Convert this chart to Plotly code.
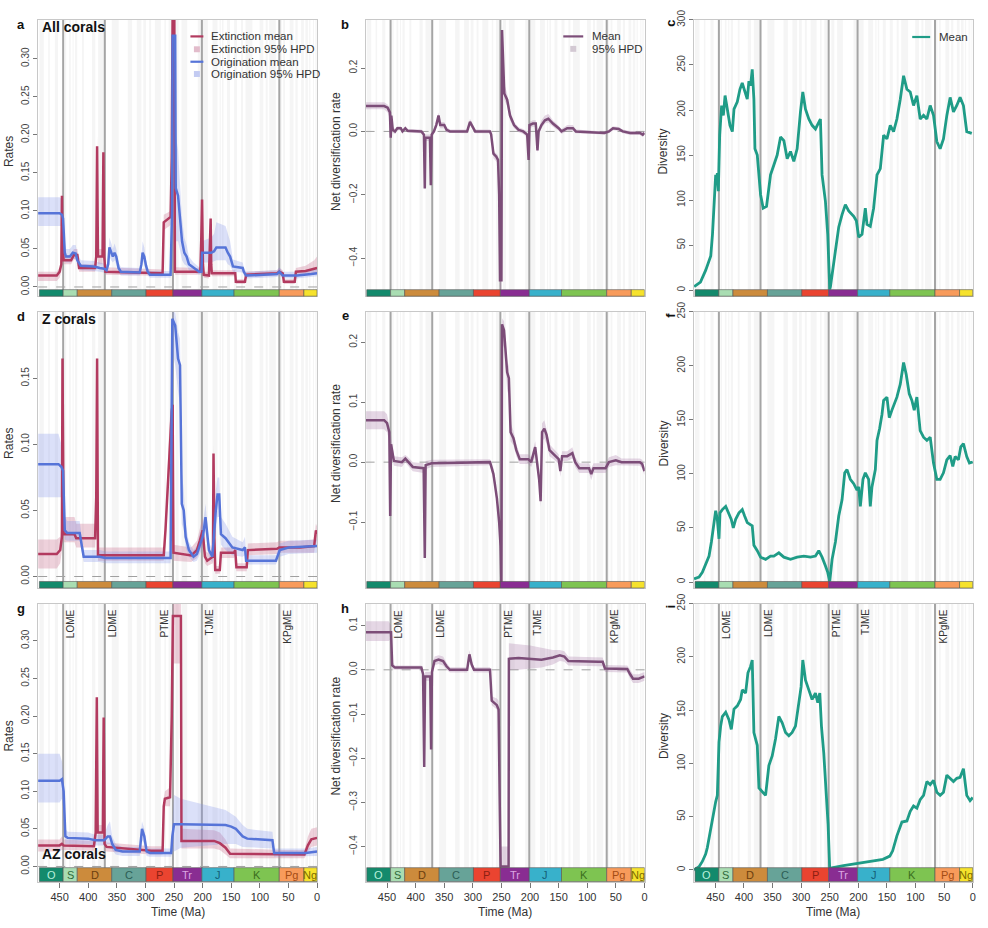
import plotly.graph_objects as go

W, H = 988, 928
FONT = "Liberation Sans, Arial, Helvetica, sans-serif"

# ---------------- geological time scale ----------------
period_names = ["O", "S", "D", "C", "P", "Tr", "J", "K", "Pg", "Ng"]
period_start = [485.4, 443.8, 419.2, 358.9, 298.9, 251.9, 201.3, 145.0, 66.0, 23.03]
period_end = [443.8, 419.2, 358.9, 298.9, 251.9, 201.3, 145.0, 66.0, 23.03, 0.0]
period_fill = ["#138a6c", "#a9ddb2", "#cc8b3c", "#67a398", "#ea4430",
               "#892d92", "#38b1cb", "#7ec451", "#f89b5b", "#f6e22c"]
period_text_color = ["#b8f0dc", "#2f6a3a", "#6b3e0e", "#2c5e55", "#8c1f12",
                     "#dba6e3", "#155f78", "#3b6e1e", "#a44c14", "#7a6a00"]
stage_bounds = [485.4, 477.7, 470.0, 467.3, 458.4, 453.0, 445.2, 443.8, 440.8, 438.5,
                433.4, 430.5, 427.4, 425.6, 423.0, 419.2, 410.8, 407.6, 393.3, 387.7,
                382.7, 372.2, 358.9, 346.7, 330.9, 323.2, 315.2, 307.0, 303.7, 298.9,
                293.5, 290.1, 283.5, 273.0, 266.9, 264.3, 259.5, 254.1, 251.9, 251.2,
                247.2, 242.0, 237.0, 227.0, 208.5, 201.3, 199.3, 190.8, 182.7, 174.1,
                170.3, 168.3, 166.1, 163.5, 157.3, 152.1, 145.0, 139.8, 132.9, 129.4,
                125.0, 113.0, 100.5, 93.9, 89.8, 86.3, 83.6, 72.1, 66.0, 61.6,
                59.2, 56.0, 47.8, 41.2, 37.8, 33.9, 27.8, 23.0, 20.4, 16.0,
                13.8, 11.6, 7.2, 5.3, 3.6, 2.6, 1.8, 0.8, 0.0]
extinction_ages = [443.8, 371.0, 251.9, 201.3, 66.0]
extinction_names = ["LOME", "LDME", "PTME", "TJME", "KPgME"]
time_ticks = [450, 400, 350, 300, 250, 200, 150, 100, 50, 0]

# ---------------- series: (time Ma, mean, HPD low, HPD high) ----------------
a_ext = [(488, .015, .008, .020), (455, .015, .008, .020), (450, .020, .012, .026),
         (447, .030, .020, .040), (446, .120, .090, .150), (445, .060, .040, .080),
         (443, .035, .030, .042), (430, .035, .030, .042), (425, .042, .036, .050),
         (419, .042, .036, .050), (416, .025, .020, .030), (388, .025, .020, .030),
         (386, .040, .030, .050), (384.5, .185, .150, .200), (383, .040, .030, .050),
         (375, .040, .030, .050), (373.5, .177, .140, .190), (372, .040, .030, .050),
         (370, .020, .016, .026), (300, .019, .015, .024), (270, .018, .014, .023),
         (268, .085, .075, .095), (258, .090, .080, .100), (256, .092, .082, .100),
         (254, .170, .140, .200), (252.5, .360, .330, .360), (249.5, .360, .330, .360),
         (248.5, .020, .016, .026), (210, .020, .016, .025), (204, .021, .017, .026),
         (202.5, .060, .045, .075), (201, .115, .090, .130), (199.5, .030, .025, .040),
         (198, .016, .012, .020), (189, .015, .011, .020), (188, .050, .040, .060),
         (186, .090, .070, .100), (185, .030, .025, .040), (184, .018, .014, .022),
         (143, .018, .014, .022), (142, .007, .004, .010), (126, .007, .004, .010),
         (124, .016, .013, .020), (100, .017, .014, .021), (70, .018, .015, .022),
         (66, .020, .016, .025), (60, .018, .014, .022), (58, .007, .004, .010),
         (39, .007, .004, .010), (37, .020, .016, .025), (20, .021, .017, .028),
         (5, .024, .018, .035), (0, .025, .018, .040)]

a_ori = [(488, .097, .080, .118), (450, .097, .080, .118), (446, .095, .080, .115),
         (444, .090, .070, .110), (441, .045, .035, .060), (439, .040, .032, .050),
         (432, .040, .032, .050), (427, .045, .037, .055), (422, .044, .036, .055),
         (419, .035, .028, .045), (413, .028, .022, .035), (390, .027, .021, .034),
         (380, .025, .020, .032), (372, .024, .019, .031), (368, .022, .017, .030),
         (365, .030, .022, .040), (363, .052, .040, .065), (360, .045, .035, .058),
         (357, .040, .032, .050), (354, .045, .035, .057), (351, .040, .030, .050),
         (347, .025, .019, .032), (343, .020, .015, .026), (310, .019, .015, .025),
         (307, .030, .022, .040), (305, .045, .035, .060), (302, .040, .030, .052),
         (299, .028, .020, .036), (296, .020, .015, .026), (292, .016, .012, .021),
         (256, .016, .012, .021), (253.5, .100, .050, .200), (252.5, .330, .200, .360),
         (248, .330, .220, .360), (247, .130, .060, .200), (243, .120, .060, .180),
         (240, .090, .050, .140), (236, .060, .035, .090), (232, .045, .030, .065),
         (228, .040, .028, .055), (224, .030, .022, .040), (216, .025, .019, .032),
         (206, .020, .016, .026), (202, .020, .016, .026), (201, .045, .032, .060),
         (185, .045, .032, .065), (180, .047, .034, .070), (176, .052, .035, .085),
         (160, .052, .035, .080), (156, .045, .030, .070), (152, .040, .028, .060),
         (147, .027, .020, .036), (130, .025, .019, .032), (128, .020, .015, .026),
         (124, .015, .011, .020), (70, .017, .013, .022), (66, .020, .015, .026),
         (60, .015, .011, .020), (35, .015, .011, .020), (10, .017, .013, .022),
         (0, .018, .014, .024)]

b_net = [(488, .080, .070, .092), (455, .080, .070, .092), (449, .075, .060, .085),
         (445, .060, .040, .075), (443.5, -.020, -.030, .000), (442.5, .050, .030, .065),
         (440, .005, -.005, .015), (436, .000, -.008, .008), (432, .010, .004, .016),
         (426, .010, .004, .016), (423, .000, -.006, .006), (418, .010, .004, .016),
         (414, .002, -.004, .008), (390, .000, -.006, .006), (385.5, -.010, -.018, -.002),
         (384, -.180, -.190, -.150), (383, -.020, -.030, -.010), (375, -.020, -.030, -.010),
         (373.5, -.170, -.180, -.140), (372, -.010, -.020, .000), (368, .000, -.008, .010),
         (364, .020, .010, .030), (360, .050, .030, .060), (357, .020, .010, .030),
         (350, .020, .010, .030), (346, .005, -.004, .014), (340, .000, -.006, .006),
         (310, .000, -.006, .006), (305, .030, .020, .040), (300, .012, .004, .020),
         (296, .000, -.006, .006), (270, .000, -.006, .006), (268, -.010, -.020, .000),
         (264, -.070, -.085, -.060), (259, -.080, -.095, -.070), (256, -.090, -.100, -.075),
         (254, -.200, -.250, -.150), (252.5, -.470, -.500, -.440), (250, -.470, -.500, -.440),
         (249, .320, .280, .340), (247, .200, .160, .230), (245, .120, .100, .150),
         (240, .100, .080, .120), (235, .050, .035, .065), (228, .020, .010, .030),
         (220, .005, -.003, .013), (212, .000, -.008, .008), (205, -.010, -.020, .000),
         (202.5, -.090, -.100, -.040), (201, .020, .010, .030), (195, .025, .015, .035),
         (190, .025, .015, .035), (187, -.060, -.070, -.030), (185, .000, -.010, .010),
         (180, .020, .010, .035), (174, .035, .025, .050), (168, .040, .028, .055),
         (160, .025, .015, .035), (150, .010, .002, .018), (145, .000, -.008, .008),
         (135, .010, .002, .020), (125, .010, .002, .020), (120, .000, -.006, .006),
         (70, -.005, -.010, .000), (62, .000, -.006, .006), (55, .010, .004, .016),
         (45, .008, .002, .014), (38, .000, -.006, .006), (25, -.005, -.011, .001),
         (8, -.005, -.011, .001), (3, -.010, -.018, -.002), (0, -.005, -.012, .002)]

c_div = [(487, 4), (476, 9), (467, 22), (461, 33), (458, 38), (455, 62), (452, 95),
         (449.4, 128), (447.7, 121), (446.5, 130), (444.8, 110), (442.4, 172), (439, 205),
         (436, 194), (433, 216), (429, 201), (424.4, 183), (420.3, 176), (417.4, 201),
         (411.6, 209), (407, 223), (403, 230), (398.8, 220), (394.2, 212), (391.3, 232),
         (388.4, 227), (385.5, 245), (382.6, 212), (380.8, 157), (376.7, 150), (370.9, 106),
         (366.3, 91), (360.5, 93), (353.5, 128), (347.7, 139), (341.9, 150), (336, 170),
         (330.2, 166), (324.4, 146), (318.6, 154), (312.8, 143), (307, 157), (301.2, 198),
         (297.1, 220), (292.4, 201), (286.6, 190), (280.8, 183), (275, 179), (270.3, 185),
         (266.3, 190), (263.4, 128), (257.6, 99), (253.5, 62), (250, 1), (248.8, 4),
         (243, 33), (234.3, 70), (228.5, 84), (222.7, 95), (216.9, 88), (208.1, 82),
         (203.5, 77), (199.4, 59), (193.6, 62), (187.8, 91), (184.9, 73), (179.1, 71),
         (173.3, 91), (167.4, 128), (161.6, 135), (155.8, 172), (150, 168), (144.2, 183),
         (138.4, 176), (132.6, 190), (126.7, 212), (120.9, 238), (115.1, 223), (109.3, 220),
         (103.5, 205), (97.7, 216), (91.9, 190), (86, 194), (80.2, 190), (74.4, 205),
         (68.6, 194), (62.8, 165), (57, 157), (51.2, 168), (45.3, 194), (39.5, 214),
         (33.7, 198), (27.9, 205), (22.1, 214), (16.3, 205), (10.5, 176), (1.7, 174)]

d_ext = [(488, .017, .006, .028), (455, .017, .006, .028), (449, .020, .010, .030),
         (446, .030, .020, .040), (445, .165, .120, .175), (444, .060, .040, .080),
         (443, .032, .026, .045), (424, .032, .026, .045), (421, .029, .022, .040),
         (388, .029, .022, .040), (386, .060, .040, .080), (384.5, .165, .130, .175),
         (383, .016, .012, .022), (300, .016, .012, .022), (268, .016, .012, .022),
         (265, .035, .025, .045), (262, .060, .045, .075), (258, .100, .080, .115),
         (254, .125, .110, .140), (252.5, .130, .100, .140), (251, .018, .012, .024),
         (220, .016, .011, .022), (210, .020, .014, .027), (205, .027, .020, .035),
         (200, .035, .025, .045), (196, .015, .010, .020), (192, .012, .008, .018),
         (182, .015, .010, .020), (181, .093, .080, .100), (179.5, .030, .020, .040),
         (178, .005, .002, .008), (170, .005, .002, .008), (168, .018, .014, .022),
         (145, .018, .014, .022), (143, .020, .016, .024), (141, .007, .004, .010),
         (123, .007, .004, .010), (121, .020, .016, .025), (70, .021, .017, .026),
         (66, .022, .018, .027), (30, .022, .018, .027), (5, .023, .018, .028),
         (2, .035, .028, .040), (0, .032, .025, .038)]

d_ori = [(488, .085, .060, .108), (452, .085, .060, .108), (447, .083, .060, .100),
         (444, .080, .055, .095), (441, .035, .028, .045), (437, .033, .027, .042),
         (415, .033, .027, .042), (412, .025, .020, .032), (408, .015, .011, .020),
         (380, .015, .011, .020), (370, .014, .010, .019), (256, .014, .010, .019),
         (254, .100, .060, .150), (253, .195, .170, .200), (248, .190, .160, .200),
         (243, .165, .140, .185), (239.5, .160, .130, .180), (236.5, .055, .040, .080),
         (233, .050, .035, .065), (229.7, .030, .022, .040), (224, .020, .015, .026),
         (216, .015, .011, .020), (210, .017, .012, .023), (200, .030, .022, .040),
         (198, .035, .025, .045), (195, .045, .035, .055), (189, .020, .014, .026),
         (183, .015, .011, .020), (177, .050, .035, .065), (174, .062, .045, .075),
         (171, .062, .045, .075), (168, .032, .024, .045), (160, .029, .020, .040),
         (148, .022, .016, .030), (130, .020, .015, .026), (126, .022, .016, .030),
         (124, .012, .009, .016), (72, .012, .009, .016), (65, .020, .015, .025),
         (50, .022, .017, .027), (0, .023, .018, .028)]

e_net = [(488, .070, .055, .085), (455, .070, .055, .085), (450, .065, .050, .080),
         (446, .050, .035, .060), (444.5, -.090, -.100, -.040), (443, .030, .015, .045),
         (438, .002, -.006, .010), (424, .000, -.008, .008), (418, .006, .000, .012),
         (414, .002, -.005, .009), (405, -.008, -.015, .000), (386, -.010, -.018, -.002),
         (384, -.160, -.170, -.120), (382.5, -.005, -.012, .002), (372, -.002, -.008, .004),
         (270, .000, -.005, .005), (264, -.020, -.030, -.010), (258, -.060, -.070, -.050),
         (254, -.100, -.115, -.085), (251.5, -.140, -.160, -.120), (250, -.210, -.210, -.180),
         (249, .230, .200, .240), (245.5, .220, .190, .235), (240, .150, .120, .170),
         (237, .140, .110, .160), (234, .050, .035, .065), (229, .040, .028, .052),
         (224, .020, .010, .030), (218, .005, -.003, .013), (203, .005, -.003, .013),
         (198, .000, -.008, .008), (191, .025, .010, .035), (184, -.030, -.040, -.010),
         (181.5, -.065, -.075, -.040), (179, .050, .035, .065), (175, .056, .040, .070),
         (171, .045, .030, .055), (166, .020, .010, .030), (155, .010, .002, .018),
         (150, .005, -.003, .013), (147, -.015, -.025, -.005), (144, .010, .002, .018),
         (135, .010, .002, .018), (126, .015, .006, .025), (121, .000, -.008, .008),
         (114, -.010, -.018, -.002), (97, -.010, -.018, -.002), (93, -.020, -.030, -.010),
         (89, -.010, -.018, -.002), (68, -.010, -.018, -.002), (62, .000, -.008, .008),
         (50, .003, -.005, .012), (40, .000, -.006, .006), (8, .000, -.006, .006),
         (4, -.003, -.010, .004), (0, -.015, -.022, -.008)]

f_div = [(487.2, 3), (478.5, 4.6), (472.7, 9), (466.9, 17), (461, 24), (456.9, 37),
         (453.5, 52), (449.4, 66), (446.5, 58), (443.6, 40), (441.9, 64), (437.8, 67),
         (431.9, 70), (427.3, 64), (422.1, 58), (418.6, 50), (414.5, 58), (408.7, 64),
         (402.9, 67), (398.8, 61), (394.2, 55), (385.5, 52), (382.6, 34), (376.7, 29),
         (370.9, 23), (362.2, 21), (353.5, 24), (347.7, 24), (339, 27), (330.2, 23),
         (318.6, 21), (307, 23), (295.3, 24), (283.7, 23), (275, 24), (269.2, 29),
         (263.4, 23), (257.6, 15), (253.5, 9), (250, 0.6), (245.9, 21), (240.1, 37),
         (234.3, 61), (228.5, 76), (223.8, 101), (219.8, 104), (214, 95), (208.1, 91),
         (202.3, 85), (199.4, 88), (196.5, 70), (191.9, 95), (187.8, 101), (182, 95),
         (179.1, 70), (176.2, 88), (170.3, 104), (167.4, 131), (162.8, 142), (158.7, 155),
         (155.8, 168), (150, 171), (145.9, 152), (141.3, 159), (137.2, 165), (132.6, 171),
         (126.7, 183), (120.9, 203), (116.3, 192), (111, 174), (106.4, 168), (102.3, 159),
         (97.7, 171), (91.9, 140), (86, 134), (80.2, 131), (74.4, 134), (68.6, 110),
         (62.8, 95), (57, 95), (51.2, 101), (45.3, 113), (39.5, 117), (34.9, 107),
         (30.8, 116), (25, 113), (20.9, 125), (16.3, 128), (10.5, 116), (5.8, 110), (0, 111)]

g_ext = [(488, .028, .020, .036), (450, .028, .020, .036), (446, .030, .022, .040),
         (443, .028, .022, .036), (390, .027, .021, .034), (387, .045, .035, .055),
         (385, .225, .200, .235), (383.5, .045, .035, .055), (374.5, .045, .035, .055),
         (373, .198, .170, .210), (371.5, .030, .022, .038), (368, .026, .020, .032),
         (290, .021, .016, .027), (270, .021, .016, .027), (268, .080, .070, .090),
         (266, .090, .080, .100), (257, .092, .080, .105), (254, .200, .150, .250),
         (252, .333, .270, .360), (238, .333, .270, .360), (237, .034, .024, .050),
         (180, .034, .024, .048), (170, .031, .022, .045), (160, .025, .016, .036),
         (152, .017, .011, .024), (60, .016, .011, .022), (22, .016, .011, .022),
         (16, .028, .020, .040), (10, .036, .026, .050), (0, .038, .028, .052)]

g_ori = [(488, .114, .085, .150), (450, .114, .085, .150), (446, .116, .090, .140),
         (443, .100, .070, .120), (440, .040, .030, .050), (436, .038, .030, .046),
         (400, .037, .030, .045), (388, .035, .028, .042), (372, .035, .028, .042),
         (366, .040, .030, .055), (362, .040, .030, .060), (358, .030, .022, .040),
         (352, .022, .016, .030), (340, .020, .014, .026), (310, .020, .014, .026),
         (306, .050, .035, .060), (302, .040, .030, .050), (298, .020, .014, .028),
         (292, .018, .013, .024), (255, .018, .013, .024), (253, .040, .020, .060),
         (250, .056, .020, .095), (238, .056, .025, .090), (160, .055, .030, .075),
         (150, .053, .030, .070), (142, .050, .030, .066), (130, .040, .026, .055),
         (122, .037, .025, .050), (78, .035, .024, .046), (75, .018, .013, .024),
         (20, .018, .013, .024), (5, .019, .014, .025), (0, .020, .014, .026)]

h_net = [(488, .085, .065, .110), (447, .085, .065, .110), (443, .085, .070, .100),
         (441, .010, .002, .018), (436, .005, .000, .010), (390, .005, .000, .010),
         (387, -.010, -.018, -.002), (385, -.220, -.230, -.180), (383.5, -.015, -.025, -.005),
         (374.5, -.015, -.025, -.005), (373, -.180, -.190, -.140), (371.5, -.005, -.015, .005),
         (367, .020, .010, .030), (360, .023, .013, .033), (352, .020, .010, .030),
         (346, .008, .000, .016), (340, .000, -.006, .006), (310, .000, -.006, .006),
         (306, .035, .025, .045), (302, .012, .004, .020), (298, .000, -.006, .006),
         (270, .000, -.006, .006), (267, -.070, -.080, -.060), (258, -.080, -.090, -.065),
         (255, -.090, -.100, -.070), (253, -.300, -.350, -.200), (251.5, -.445, -.480, -.400),
         (237.5, -.445, -.480, -.400), (237, .025, .000, .060), (220, .027, .000, .058),
         (200, .025, .002, .055), (180, .023, .005, .050), (160, .028, .012, .045),
         (148, .033, .020, .045), (140, .030, .018, .042), (133, .020, .010, .030),
         (80, .018, .008, .028), (73, .018, .008, .028), (69, .003, -.005, .011),
         (40, .002, -.006, .010), (30, .002, -.006, .010), (25, -.010, -.020, .000),
         (20, -.020, -.030, -.010), (10, -.020, -.030, -.010), (0, -.015, -.025, -.005)]

i_div = [(487.2, 0), (478.5, 3), (472.7, 8), (466.9, 15), (464, 21), (455.2, 49),
         (449.4, 64), (446.5, 70), (443.6, 120), (440.7, 135), (437.8, 144), (431.9, 148),
         (426.2, 141), (422.1, 132), (417.4, 151), (411.6, 154), (405.8, 160), (402.9, 169),
         (397.1, 166), (393, 185), (388.4, 191), (385.5, 197), (382.6, 129), (379.7, 123),
         (376.7, 117), (373.8, 77), (368, 73), (362.2, 70), (356.4, 98), (350.6, 107),
         (344.8, 123), (339, 144), (333.1, 138), (327.3, 129), (321.5, 126), (315.7, 129),
         (309.9, 135), (304.1, 157), (300, 172), (297.1, 197), (292.4, 178), (286.6, 169),
         (280.8, 160), (275, 166), (270.9, 157), (267.4, 166), (264.5, 135), (260.5, 110),
         (256.4, 77), (252.9, 43), (250, 0), (246, 2), (226, 4), (202, 6), (180, 8),
         (157, 10), (145, 13), (140, 18), (132.6, 32), (123.8, 45), (115.1, 46),
         (109.3, 55), (103.5, 60), (97.7, 58), (91.9, 66), (86, 70), (80.2, 83),
         (74.4, 80), (68.6, 84), (62.8, 73), (57, 70), (51.2, 73), (45.3, 89),
         (39.5, 86), (33.7, 83), (27.9, 86), (22.1, 87), (16.3, 95), (10.5, 70),
         (4.7, 65), (0, 68)]

# ---------------- styling ----------------
RED = "#b23a5f"
BLUE = "#5674d8"
PURPLE = "#7c4d78"
TEAL = "#1f9c87"
RED_BAND = "rgba(206,120,150,0.34)"
BLUE_BAND = "rgba(125,145,232,0.28)"
PURPLE_BAND = "rgba(160,110,160,0.28)"
STRIPE = "#f5f5f5"

col_px = [(38.3, 318.3), (366.7, 646.7), (696.0, 976.0)]
row_px = [(10.0, 289.3), (305.0, 584.3), (600.0, 881.0)]
XR = [487.5, -0.5]

yranges = {1: [-0.0121, 0.351], 2: [-0.52, 0.352], 3: [-6.6, 300],
           4: [-0.0087, 0.2004], 5: [-0.21, 0.251], 6: [-5.5, 250],
           7: [-0.020, 0.3496], 8: [-0.479, 0.15], 9: [-10.8, 250]}


def fmt(v, nd):
    s = f"{v:.{nd}f}"
    if s.startswith("-0") and float(s) == 0:
        s = s[1:]
    return s.replace("-", "\u2212")


rate_ticks = [0, 0.05, 0.10, 0.15, 0.20, 0.25, 0.30]
ytick = {1: (rate_ticks, 2), 2: ([-0.4, -0.2, 0.0, 0.2], 1), 3: ([0, 50, 100, 150, 200, 250, 300], 0),
         4: ([0, 0.05, 0.10, 0.15], 2), 5: ([-0.1, 0.0, 0.1, 0.2], 1), 6: ([0, 50, 100, 150, 200, 250], 0),
         7: (rate_ticks, 2), 8: ([-0.4, -0.3, -0.2, -0.1, 0.0, 0.1], 1),
         9: ([0, 50, 100, 150, 200, 250], 0)}


def axn(letter, k):
    return letter if k == 1 else f"{letter}{k}"


fig = go.Figure()
layout = dict(width=W, height=H, margin=dict(l=0, r=0, t=0, b=0),
              paper_bgcolor="white", plot_bgcolor="white", showlegend=False,
              font=dict(family=FONT, color="#333"))
shapes = []
annotations = []


def px_x(x):
    return x / W


def px_y(y):
    return 1 - y / H


for k in range(1, 10):
    r, c = (k - 1) // 3, (k - 1) % 3
    x0, x1 = col_px[c]
    y0, y1 = row_px[r]
    bottom = (r == 2)
    xr, yr = axn("x", k), axn("y", k)
    xa = dict(domain=[px_x(x0), px_x(x1)], range=XR, anchor=yr, showgrid=False,
              zeroline=False, showline=True, mirror=True, linecolor="#c8c8c8", linewidth=1)
    if bottom:
        xa.update(tickvals=time_ticks, ticktext=[str(v) for v in time_ticks], ticks="outside",
                  ticklen=5, tickcolor="#777", tickfont=dict(size=11, color="#333", family=FONT))
    else:
        xa.update(showticklabels=False, ticks="")
    vals, nd = ytick[k]
    ya = dict(domain=[px_y(y1), px_y(y0)], range=yranges[k], anchor=xr, showgrid=False,
              zeroline=False, showline=True, mirror=True, linecolor="#c8c8c8", linewidth=1,
              tickvals=vals, ticktext=[fmt(v, nd) for v in vals], tickangle=-90,
              ticks="outside", ticklen=4, tickcolor="#777",
              tickfont=dict(size=10, color="#444", family=FONT))
    sfx = "" if k == 1 else str(k)
    layout["xaxis" + sfx] = xa
    layout["yaxis" + sfx] = ya

    bar_frac = (14.0 if bottom else 6.6) / (y1 - y0)
    # stage stripes
    for j in range(0, len(stage_bounds) - 1, 2):
        shapes.append(dict(type="rect", xref=xr, yref=f"{yr} domain", x0=stage_bounds[j],
                           x1=stage_bounds[j + 1], y0=0, y1=1, fillcolor=STRIPE,
                           line=dict(width=0), layer="below"))
    # zero dashed line for rates / net diversification
    if c in (0, 1):
        shapes.append(dict(type="line", xref=f"{xr} domain", yref=yr, x0=0, x1=1, y0=0, y1=0,
                           line=dict(color="#a0a0a0", width=1, dash="dash"), layer="below"))
    # mass-extinction lines
    for age in extinction_ages:
        shapes.append(dict(type="line", xref=xr, yref=f"{yr} domain", x0=age, x1=age,
                           y0=bar_frac, y1=1, line=dict(color="#a5a5a5", width=2), layer="below"))
    # time scale bar
    for p in range(len(period_names)):
        shapes.append(dict(type="rect", xref=xr, yref=f"{yr} domain", x0=period_start[p],
                           x1=period_end[p], y0=0, y1=bar_frac, fillcolor=period_fill[p],
                           line=dict(color="#555", width=0.6), layer="above"))
        if bottom:
            annotations.append(dict(xref=xr, yref=f"{yr} domain",
                                    x=(period_start[p] + period_end[p]) / 2, y=bar_frac / 2,
                                    text=period_names[p], showarrow=False,
                                    font=dict(size=11, color=period_text_color[p], family=FONT),
                                    xanchor="center", yanchor="middle"))
    if bottom:
        for age, name in zip(extinction_ages, extinction_names):
            shift = 8
            if k == 7 and name == "PTME":
                shift = -8
            annotations.append(dict(xref=xr, yref="paper", x=age, y=px_y(604), text=name,
                                    showarrow=False, textangle=-90, xshift=shift,
                                    xanchor="center", yanchor="top",
                                    font=dict(size=10, color="#333", family=FONT)))
        annotations.append(dict(xref="paper", yref="paper", x=px_x((x0 + x1) / 2), y=px_y(912),
                                text="Time (Ma)", showarrow=False, xanchor="center",
                                yanchor="middle", font=dict(size=12, color="#333", family=FONT)))


def add_band(rows, k, color):
    t = [q[0] for q in rows]
    lo = [q[2] for q in rows]
    hi = [q[3] for q in rows]
    fig.add_trace(go.Scatter(x=t + t[::-1], y=hi + lo[::-1], mode="lines", fill="toself",
                             fillcolor=color, line=dict(width=0), hoverinfo="skip",
                             xaxis=axn("x", k), yaxis=axn("y", k)))


def add_mean(rows, k, color, width=2.5):
    fig.add_trace(go.Scatter(x=[q[0] for q in rows], y=[q[1] for q in rows], mode="lines",
                             line=dict(color=color, width=width), hoverinfo="skip",
                             xaxis=axn("x", k), yaxis=axn("y", k)))


# rates panels
for k, ext, ori in [(1, a_ext, a_ori), (4, d_ext, d_ori), (7, g_ext, g_ori)]:
    add_band(ext, k, RED_BAND)
    add_band(ori, k, BLUE_BAND)
    add_mean(ext, k, RED)
    add_mean(ori, k, BLUE)
# net diversification
for k, net in [(2, b_net), (5, e_net), (8, h_net)]:
    add_band(net, k, PURPLE_BAND)
    add_mean(net, k, PURPLE)
# diversity
for k, div in [(3, c_div), (6, f_div), (9, i_div)]:
    fig.add_trace(go.Scatter(x=[q[0] for q in div], y=[q[1] for q in div], mode="lines",
                             line=dict(color=TEAL, width=2.8), hoverinfo="skip",
                             xaxis=axn("x", k), yaxis=axn("y", k)))

# panel letters
letters = [("a", 21.5, 15, 0), ("b", 346.5, 15, 0), ("c", 673, 13, -90),
           ("d", 21.5, 310, 0), ("e", 346.5, 309, 0), ("f", 673, 308, -90),
           ("g", 21.5, 605, 0), ("h", 346.5, 605, 0), ("i", 673, 603, -90)]
for txt, x, y, ang in letters:
    annotations.append(dict(xref="paper", yref="paper", x=px_x(x), y=px_y(y), text=f"<b>{txt}</b>",
                            showarrow=False, textangle=ang, xanchor="center", yanchor="middle",
                            font=dict(size=13, color="#111", family=FONT)))

# group titles
for txt, y in [("All corals", 17.5), ("Z corals", 312.5), ("AZ corals", 853.5)]:
    annotations.append(dict(xref="paper", yref="paper", x=px_x(40), y=px_y(y), text=f"<b>{txt}</b>",
                            showarrow=False, xanchor="left", yanchor="middle",
                            font=dict(size=14, color="#111", family=FONT)))

# y-axis titles
ytitles = ["Rates", "Net diversification rate", "Diversity"]
title_x = [9, 337, 665.5]
for r in range(3):
    yc = (row_px[r][0] + row_px[r][1]) / 2 - 7
    for c in range(3):
        annotations.append(dict(xref="paper", yref="paper", x=px_x(title_x[c]), y=px_y(yc),
                                text=ytitles[c], showarrow=False, textangle=-90,
                                xanchor="center", yanchor="middle",
                                font=dict(size=12, color="#333", family=FONT)))


# legends
def legend_line(x0, x1, y, color):
    shapes.append(dict(type="line", xref="paper", yref="paper", x0=px_x(x0), x1=px_x(x1),
                       y0=px_y(y), y1=px_y(y), line=dict(color=color, width=2.2)))


def legend_square(xc, y, color):
    shapes.append(dict(type="rect", xref="paper", yref="paper", x0=px_x(xc - 3), x1=px_x(xc + 3),
                       y0=px_y(y + 3), y1=px_y(y - 3), fillcolor=color, line=dict(width=0)))


def legend_text(x, y, txt):
    annotations.append(dict(xref="paper", yref="paper", x=px_x(x), y=px_y(y), text=txt,
                            showarrow=False, xanchor="left", yanchor="middle",
                            font=dict(size=11.5, color="#333", family=FONT)))


legend_line(191, 204, 26.7, RED)
legend_text(210, 26.7, "Extinction mean")
legend_square(197.5, 39.7, "#e2bccb")
legend_text(210, 39.7, "Extinction 95% HPD")
legend_line(191, 204, 52.3, BLUE)
legend_text(210, 52.3, "Origination mean")
legend_square(197.5, 64.7, "#c3cbf2")
legend_text(210, 64.7, "Origination 95% HPD")

legend_line(565, 585, 26.7, PURPLE)
legend_text(592, 26.7, "Mean")
legend_square(575, 39.3, "#d3c9d3")
legend_text(592, 39.3, "95% HPD")

legend_line(915, 933, 27.3, TEAL)
legend_text(940, 27.3, "Mean")

layout["shapes"] = shapes
layout["annotations"] = annotations
fig.update_layout(**layout)
fig.write_html("out.html")
